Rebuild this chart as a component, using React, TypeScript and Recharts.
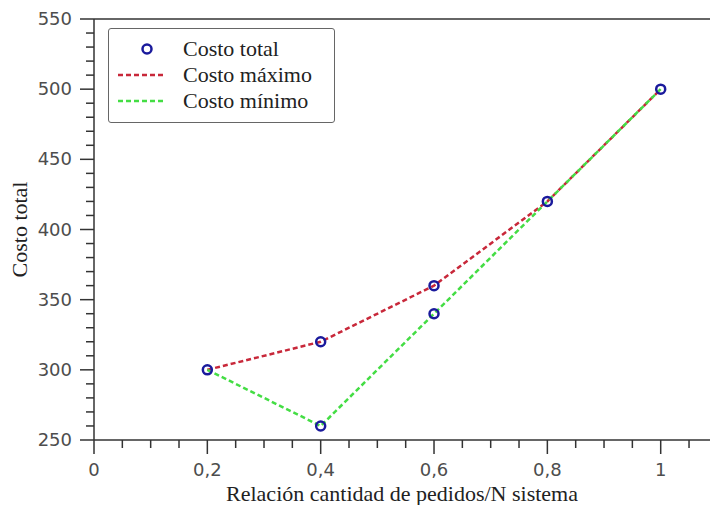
import {
  ComposedChart,
  Line,
  Scatter,
  XAxis,
  YAxis,
  Label,
  Legend,
  ReferenceLine,
} from "recharts";

const ratios = [0.2, 0.4, 0.6, 0.8, 1];
const costMax = [300, 320, 360, 420, 500];
const costMin = [300, 260, 340, 420, 500];

const totalX = [0.2, 0.4, 0.4, 0.6, 0.6, 0.8, 1];
const totalY = [300, 320, 260, 360, 340, 420, 500];

const xMajor = [0, 0.2, 0.4, 0.6, 0.8, 1];
const xTicks = [
  0, 0.05, 0.1, 0.15, 0.2, 0.25, 0.3, 0.35, 0.4, 0.45, 0.5, 0.55, 0.6, 0.65,
  0.7, 0.75, 0.8, 0.85, 0.9, 0.95, 1, 1.05,
];
const yMajor = [250, 300, 350, 400, 450, 500, 550];

const maxData = ratios.map((x, i) => ({ x, y: costMax[i] }));
const minData = ratios.map((x, i) => ({ x, y: costMin[i] }));
const totalData = totalX.map((x, i) => ({ x, y: totalY[i] }));

// minor ticks every 10 between the major ones
const yTicks: number[] = [];
yMajor.forEach((v, i) => {
  yTicks.push(v);
  if (i < yMajor.length - 1) for (let k = 1; k < 5; k++) yTicks.push(v + k * 10);
});

const AXIS = "#333";
const RED = "#c8283a";
const GREEN = "#44dd44";
const BLUE = "#1a1a9c";
const SERIF = '"Liberation Serif", "Times New Roman", serif';
const SANS = '"DejaVu Sans", Verdana, sans-serif';

const isMajor = (list: number[], v: number) =>
  list.some((m) => Math.abs(m - v) < 1e-9);

function XTick({ x, y, payload }: any) {
  const major = isMajor(xMajor, payload.value);
  return (
    <g>
      <line x1={x} x2={x} y1={y} y2={y + (major ? 14 : 8)} stroke={AXIS} strokeWidth={1.5} />
      {major && (
        <text x={x} y={y + 36} textAnchor="middle" fontSize={18} fontFamily={SANS} fill="#4d4d4d">
          {String(payload.value).replace(".", ",")}
        </text>
      )}
    </g>
  );
}

function YTick({ x, y, payload }: any) {
  const major = isMajor(yMajor, payload.value);
  return (
    <g>
      <line x1={x - (major ? 14 : 8)} x2={x} y1={y} y2={y} stroke={AXIS} strokeWidth={1.5} />
      {major && (
        <text x={x - 22} y={y + 6} textAnchor="end" fontSize={18} fontFamily={SANS} fill="#4d4d4d">
          {payload.value}
        </text>
      )}
    </g>
  );
}

const legendItems = [
  { name: "Costo total", kind: "circle", color: BLUE },
  { name: "Costo máximo", kind: "dash", color: RED },
  { name: "Costo mínimo", kind: "dash", color: GREEN },
];

function LegendBox() {
  return (
    <div
      style={{
        width: 227,
        height: 95,
        border: "1.5px solid #666",
        borderRadius: 3,
        background: "#fff",
        boxSizing: "border-box",
        paddingTop: 7,
      }}
    >
      {legendItems.map((it) => (
        <div key={it.name} style={{ display: "flex", alignItems: "center", height: 26 }}>
          <svg width={72} height={26}>
            {it.kind === "circle" ? (
              <circle cx={38} cy={13} r={4.5} fill="none" stroke={it.color} strokeWidth={2.5} />
            ) : (
              <line x1={9} x2={56} y1={13} y2={13} stroke={it.color} strokeWidth={2.5} strokeDasharray="5 3" />
            )}
          </svg>
          <span style={{ fontFamily: SERIF, fontSize: 22, color: "#222", marginLeft: 2 }}>{it.name}</span>
        </div>
      ))}
    </div>
  );
}

const Ring = (props: any) => (
  <circle cx={props.cx} cy={props.cy} r={4.5} fill="none" stroke={BLUE} strokeWidth={2.5} />
);

export default function App() {
  return (
    <div style={{ position: "absolute", left: 0, top: 0, width: 710, height: 505, background: "#fff" }}>
      <ComposedChart width={710} height={505} margin={{ top: 19, right: 0, bottom: 0, left: 0 }}>
        <XAxis
          dataKey="x"
          type="number"
          domain={[0, 1.087]}
          allowDataOverflow
          ticks={xTicks}
          interval={0}
          tick={<XTick />}
          tickLine={false}
          tickSize={0}
          tickMargin={0}
          height={65}
          axisLine={{ stroke: AXIS, strokeWidth: 1.5 }}
        >
          <Label
            content={({ viewBox }: any) => (
              <text
                x={viewBox.x + viewBox.width / 2}
                y={viewBox.y + 61}
                textAnchor="middle"
                fontSize={22}
                fontFamily={SERIF}
                fill="#222"
              >
                Relación cantidad de pedidos/N sistema
              </text>
            )}
          />
        </XAxis>
        <YAxis
          dataKey="y"
          type="number"
          domain={[250, 550]}
          ticks={yTicks}
          interval={0}
          tick={<YTick />}
          tickLine={false}
          tickSize={0}
          tickMargin={0}
          width={94}
          axisLine={{ stroke: AXIS, strokeWidth: 1.5 }}
        >
          <Label
            content={({ viewBox }: any) => {
              const cx = 27;
              const cy = viewBox.y + viewBox.height / 2;
              return (
                <text
                  x={cx}
                  y={cy}
                  transform={`rotate(-90, ${cx}, ${cy})`}
                  textAnchor="middle"
                  fontSize={22}
                  fontFamily={SERIF}
                  fill="#222"
                >
                  Costo total
                </text>
              );
            }}
          />
        </YAxis>
        <ReferenceLine y={550} stroke={AXIS} strokeWidth={1.5} />
        <Legend
          layout="vertical"
          align="center"
          verticalAlign="middle"
          wrapperStyle={{ left: 108, top: 28, width: 227 }}
          content={() => <LegendBox />}
        />
        <Line
          data={maxData}
          dataKey="y"
          name="Costo máximo"
          stroke={RED}
          strokeWidth={2.5}
          strokeDasharray="5 3"
          dot={false}
          isAnimationActive={false}
        />
        <Line
          data={minData}
          dataKey="y"
          name="Costo mínimo"
          stroke={GREEN}
          strokeWidth={2.5}
          strokeDasharray="5 3"
          dot={false}
          isAnimationActive={false}
        />
        <Scatter
          data={totalData}
          dataKey="y"
          name="Costo total"
          shape={<Ring />}
          isAnimationActive={false}
        />
      </ComposedChart>
    </div>
  );
}
